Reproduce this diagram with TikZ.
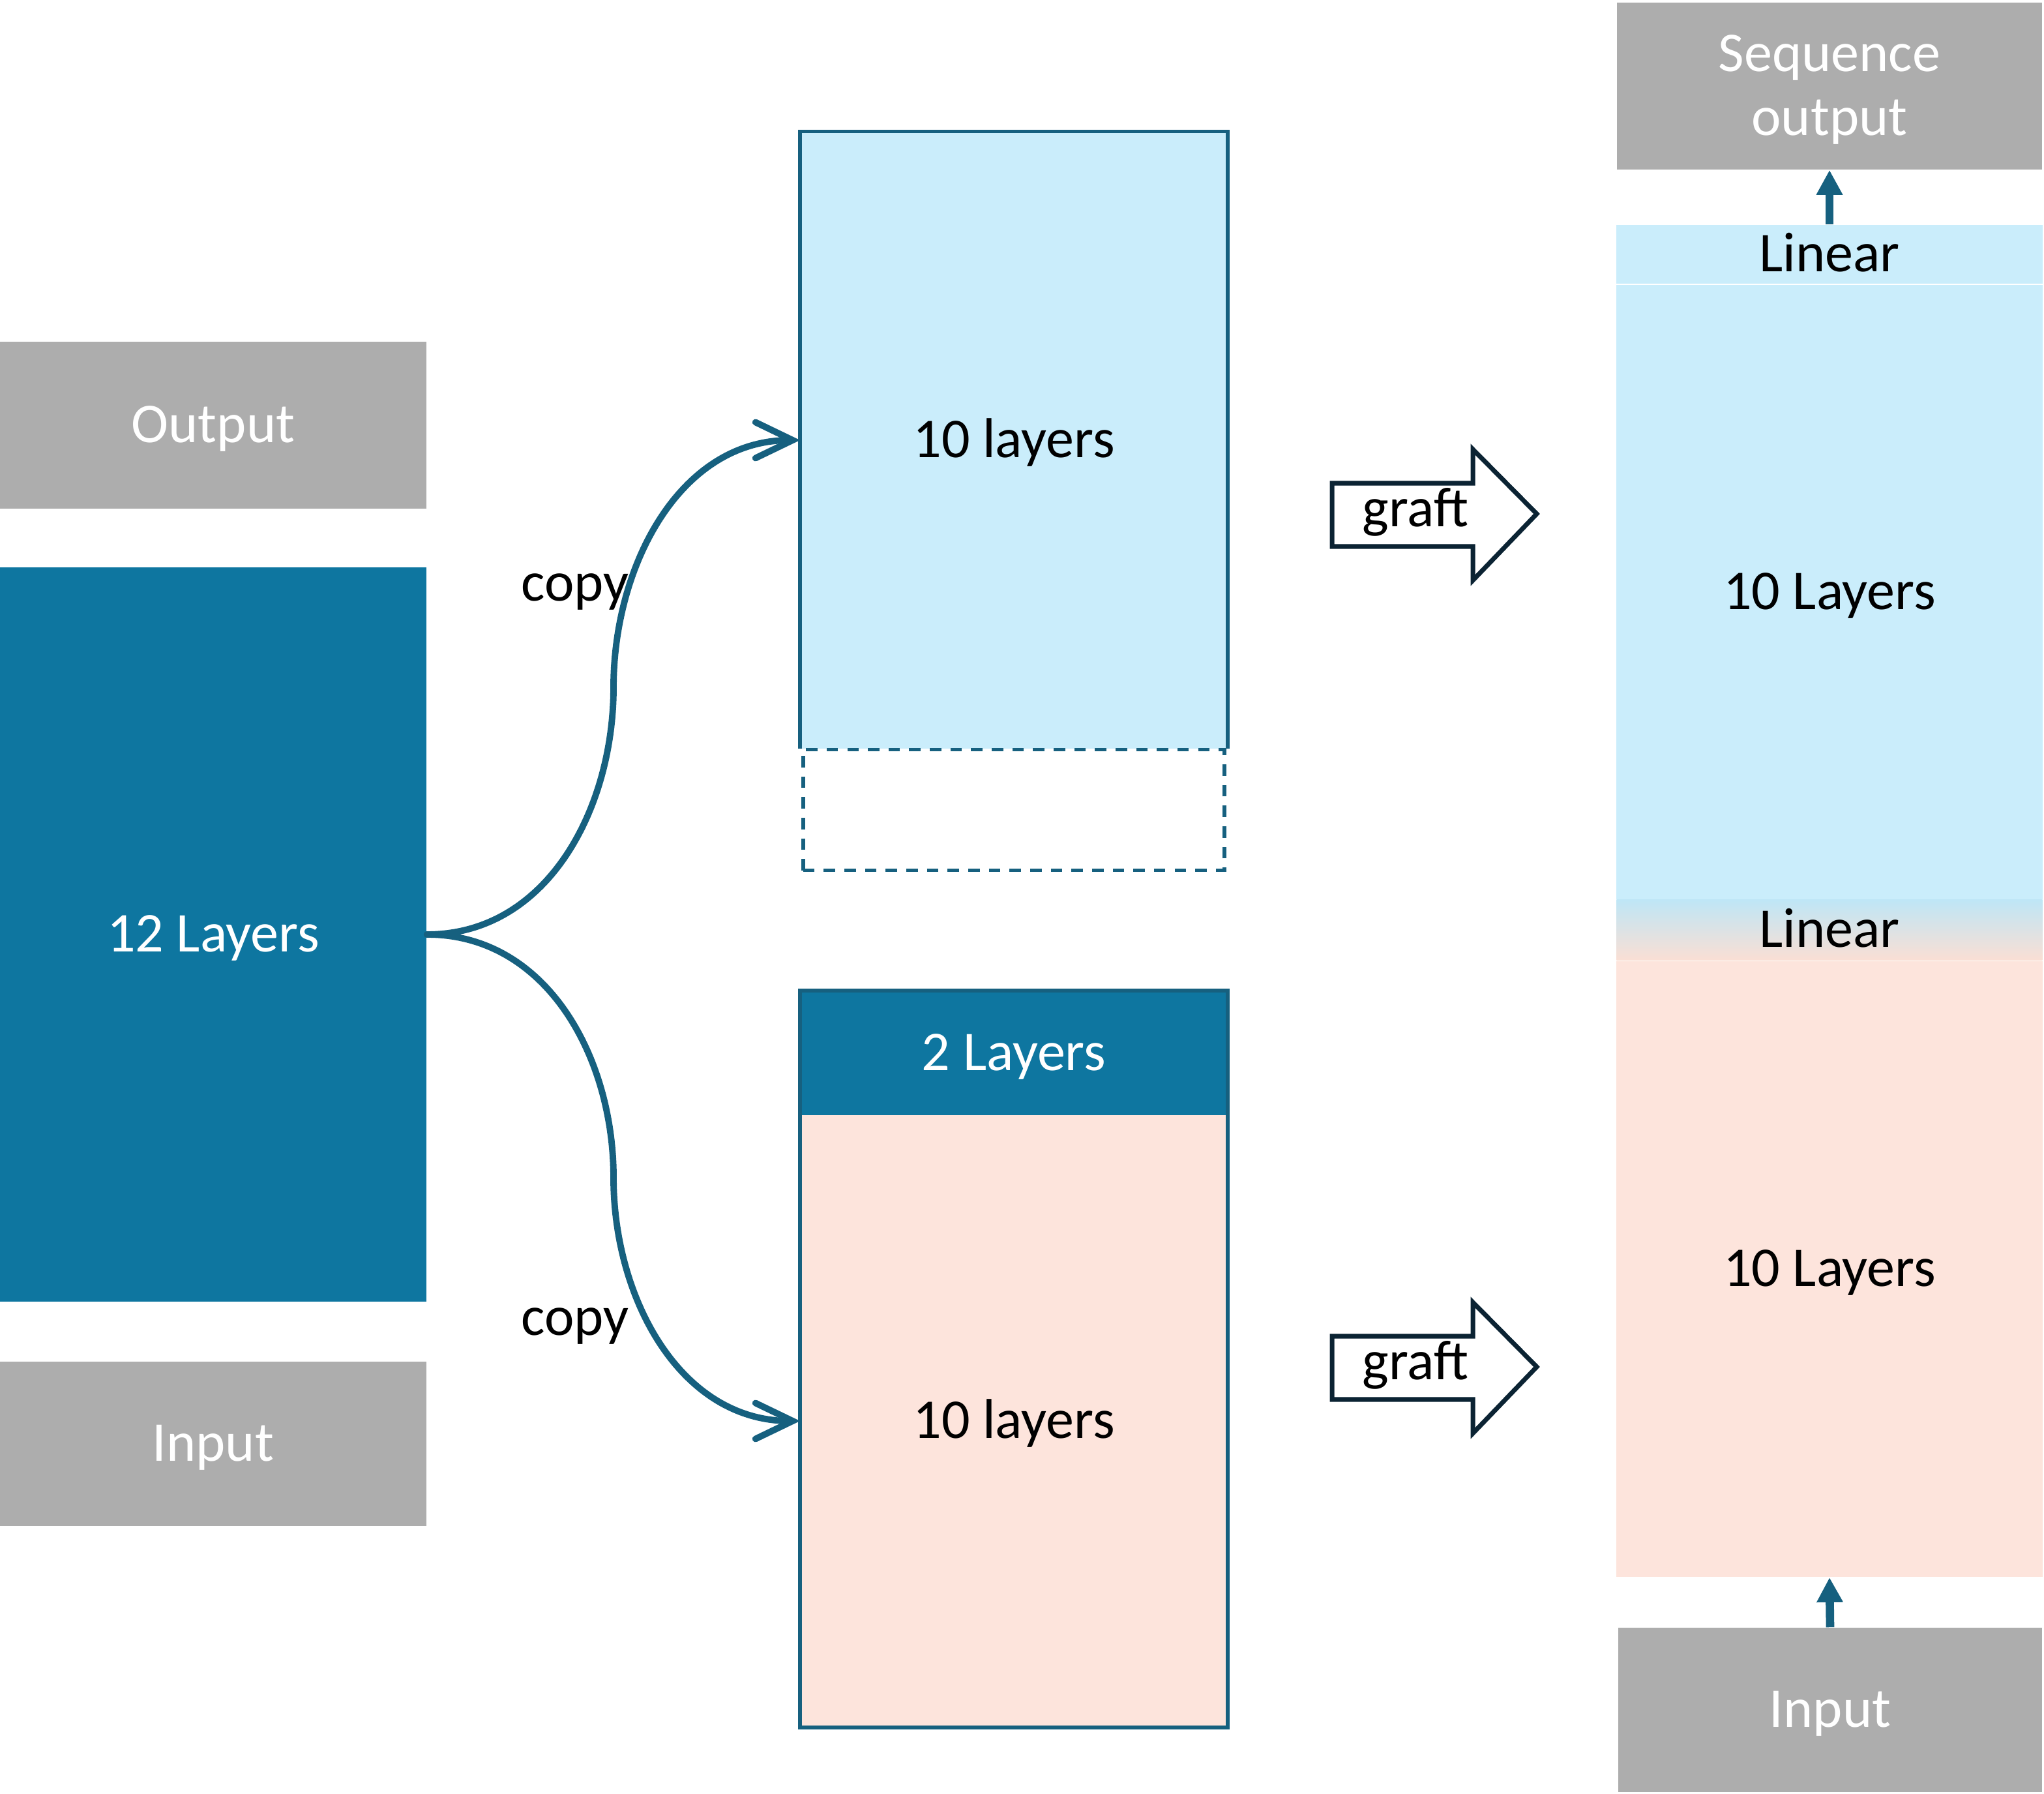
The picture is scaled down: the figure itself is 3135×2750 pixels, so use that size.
\documentclass[tikz,border=0pt]{standalone}
\usepackage{fontspec}
\setmainfont{Carlito}
\usetikzlibrary{arrows.meta,calc}
\definecolor{boxgray}{HTML}{ADADAD}
\definecolor{deepblue}{HTML}{0E76A0}
\definecolor{lineblue}{HTML}{16607F}
\definecolor{paleblue}{HTML}{CAEDFB}
\definecolor{peach}{HTML}{FDE4DC}
\definecolor{navy}{HTML}{0B2333}

\begin{document}
\begin{tikzpicture}[x=0.01cm,y=0.01cm,
    every node/.style={font=\fontsize{24.5}{28}\selectfont,inner sep=0pt,
        text height=19.6pt,text depth=4.4pt},
    gray box/.style={fill=boxgray,text=white,minimum width=6.53cm},
    deep box/.style={fill=deepblue,text=white,minimum width=6.54cm},
    blue box/.style={fill=paleblue,minimum width=6.53cm},
    peach box/.style={fill=peach,minimum width=6.53cm},
    copy line/.style={draw=lineblue,line width=2.8pt,line cap=round,
        -{Straight Barb[length=5.7mm,width=5.5mm,line cap=round]}},
    up arrow/.style={draw=lineblue,line width=3.6pt,
        -{Triangle[length=3.8mm,width=3.8mm]}},
    graft shape/.style={draw=navy,line width=2pt,fill=white,line join=miter}]

    \useasboundingbox (0,0) rectangle (3135,2750);

    % Left column
    \node[gray box,minimum height=2.56cm] (outL) at (327,2098) {Output};
    \node[deep box,minimum height=11.26cm] (big) at (327,1317) {12 Layers};
    \node[gray box,minimum height=2.52cm] (inL) at (327,536) {Input};

    % Middle column, upper copy
    \node[blue box,minimum width=6.54cm,minimum height=9.45cm] (up) at (1555,2075) {10 layers};
    \draw[lineblue,line width=1.7pt] (up.south west) -- (up.north west) -- (up.north east) -- (up.south east);
    \node[draw=lineblue,line width=1.6pt,dash pattern=on 5pt off 4pt,
        minimum width=6.46cm,minimum height=1.85cm] (gap) at (1555,1508) {};

    % Middle column, lower copy
    \node[deep box,minimum height=1.90cm] (two) at (1555,1135) {2 Layers};
    \node[peach box,minimum width=6.54cm,minimum height=9.38cm] (low) at (1555,571) {10 layers};
    \draw[lineblue,line width=1.7pt] (two.north west) rectangle (low.south east);

    % Copy curves
    \draw[copy line] (big.east) to[out=0,in=-90] ($(big.east)!.5!(up.west)$) to[out=90,in=180] (up.west);
    \draw[copy line] (big.east) to[out=0,in=90] ($(big.east)!.5!(low.west)$) to[out=-90,in=180] (low.west);
    \node (copyA) at (882,1855) {copy};
    \node (copyB) at (882,729) {copy};

    % Graft arrows
    \draw[graft shape] (2043,2009) -- (2259,2009) -- (2259,2061) -- (2357,1962)
        -- (2259,1860) -- (2259,1912) -- (2043,1912) -- cycle;
    \node (graftA) at (2171,1969) {graft};
    \draw[graft shape] (2043,701) -- (2259,701) -- (2259,753) -- (2357,654)
        -- (2259,552) -- (2259,604) -- (2043,604) -- cycle;
    \node (graftB) at (2171,661) {graft};

    % Right column
    \node[gray box,minimum width=6.52cm,minimum height=2.56cm,align=center,
        text height=47.6pt] (seq) at (2806,2618) {Sequence\\output};
    \node[blue box,minimum height=0.90cm] (lin1) at (2806,2360) {Linear};
    \node[blue box,minimum height=9.41cm] (blue10) at (2806,1842) {10 Layers};
    \node[top color=paleblue!90!deepblue!60!paleblue,bottom color=peach!95!brown,
        minimum width=6.53cm,minimum height=0.92cm] (lin2) at (2806,1324) {Linear};
    \node[peach box,minimum height=9.44cm] (peach10) at (2806,804) {10 Layers};
    \node[gray box,minimum width=6.50cm,minimum height=2.52cm] (inR) at (2807,128) {Input};

    \draw[up arrow] (lin1.north) -- (seq.south);
    \draw[up arrow] (inR.north) -- (peach10.south);
\end{tikzpicture}
\end{document}
